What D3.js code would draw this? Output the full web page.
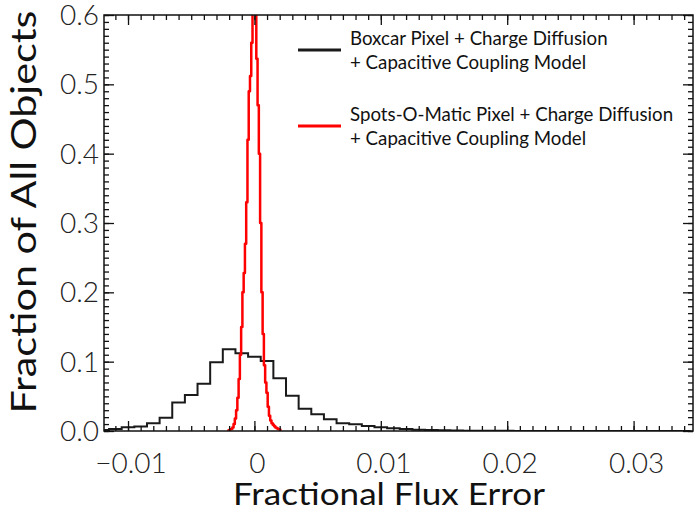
<!DOCTYPE html>
<html>
<head>
<meta charset="utf-8">
<script src="https://cdn.jsdelivr.net/npm/d3@7"></script>
<style>
  html, body { margin: 0; padding: 0; background: #fff; }
  svg { display: block; font-family: Lato, "Open Sans", sans-serif; }
  .domain { display: none; }
</style>
</head>
<body>
<svg id="chart" width="695" height="512"></svg>
<script>
"use strict";

// Boxcar model histogram, bin width 0.001 (bin centers)
const boxcarCenters = [-0.012, -0.011, -0.010, -0.009, -0.008, -0.007, -0.006, -0.005, -0.004, -0.003,
  -0.002, -0.001, 0.000, 0.001, 0.002, 0.003, 0.004, 0.005, 0.006, 0.007,
  0.008, 0.009, 0.010, 0.011, 0.012, 0.013, 0.014, 0.015, 0.016, 0.017,
  0.018, 0.019, 0.020, 0.021, 0.022, 0.023, 0.024, 0.025, 0.026, 0.027,
  0.028, 0.029, 0.030, 0.031, 0.032, 0.033, 0.034];
const boxcarValues = [0.0015, 0.003, 0.0055, 0.0065, 0.011, 0.019, 0.041, 0.052, 0.068, 0.099,
  0.118, 0.112, 0.107, 0.101, 0.076, 0.051, 0.032, 0.024, 0.0168, 0.011,
  0.0096, 0.0072, 0.0053, 0.0038, 0.0029, 0.0019, 0.0014, 0.0010, 0.0007, 0.0005,
  0.0004, 0.0003, 0.0002, 0.0001, 0.0001, 0.0001, 0.0001, 0.0001, 0.0001, 0.0001,
  0.0001, 0.0001, 0.0001, 0.0001, 0.0001, 0.0001, 0.0001];
const boxcarWidth = 0.001;

// Spots-O-Matic model histogram, bin width 0.0001 (bin centers)
const spotsCenters = [-0.0021, -0.0020, -0.0019, -0.0018, -0.0017, -0.0016, -0.0015, -0.0014, -0.0013, -0.0012,
  -0.0011, -0.0010, -0.0009, -0.0008, -0.0007, -0.0006, -0.0005, -0.0004, -0.0003, -0.0002,
  -0.0001, 0.0000, 0.0001, 0.0002, 0.0003, 0.0004, 0.0005, 0.0006, 0.0007, 0.0008,
  0.0009, 0.0010, 0.0011, 0.0012, 0.0013, 0.0014, 0.0015, 0.0016, 0.0017, 0.0018,
  0.0019, 0.0020, 0.0021];
const spotsValues = [0.000, 0.001, 0.002, 0.003, 0.005, 0.010, 0.018, 0.030, 0.048, 0.075,
  0.110, 0.150, 0.200, 0.228, 0.270, 0.330, 0.420, 0.490, 0.512, 0.560,
  0.700, 0.720, 0.640, 0.537, 0.470, 0.400, 0.300, 0.200, 0.140, 0.095,
  0.070, 0.055, 0.035, 0.022, 0.015, 0.011, 0.009, 0.007, 0.005, 0.004,
  0.003, 0.002, 0.001];
const spotsWidth = 0.0001;

const xMajorTicks = [-0.01, 0, 0.01, 0.02, 0.03];
const xTickLabels = ["\u22120.01", "0", "0.01", "0.02", "0.03"];
const yMajorTicks = [0.0, 0.1, 0.2, 0.3, 0.4, 0.5, 0.6];
const yTickLabels = ["0.0", "0.1", "0.2", "0.3", "0.4", "0.5", "0.6"];

const seriesNames = [
  ["Boxcar Pixel + Charge Diffusion", "+ Capacitive Coupling Model"],
  ["Spots-O-Matic Pixel + Charge Diffusion", "+ Capacitive Coupling Model"]
];
const seriesColors = ["#1a1a1a", "#ff0000"];

const margin = {top: 15, right: 2, bottom: 81, left: 104};
const W = 695, H = 512;
const width = W - margin.left - margin.right;
const height = H - margin.top - margin.bottom;

const svg = d3.select("#chart");
const g = svg.append("g")
  .attr("transform", "translate(" + margin.left + "," + margin.top + ")");

const x = d3.scaleLinear().domain([-0.0119, 0.0347]).range([0, width]);
const y = d3.scaleLinear().domain([0, 0.6]).range([height, 0]);

g.append("clipPath").attr("id", "plotclip")
  .append("rect").attr("x", 0).attr("y", 0).attr("width", width).attr("height", height);

// turn bins into step vertices
function stepPoints(centers, values, w) {
  const pts = centers.map((c, i) => [c - w / 2, values[i]]);
  pts.push([centers[centers.length - 1] + w / 2, values[values.length - 1]]);
  return pts;
}

const line = d3.line()
  .x(d => x(d[0]))
  .y(d => y(d[1]))
  .curve(d3.curveStepAfter);

const plot = g.append("g").attr("clip-path", "url(#plotclip)");

plot.append("path")
  .datum(stepPoints(boxcarCenters, boxcarValues, boxcarWidth))
  .attr("fill", "none")
  .attr("stroke", seriesColors[0])
  .attr("stroke-width", 2)
  .attr("d", line);

plot.append("path")
  .datum(stepPoints(spotsCenters, spotsValues, spotsWidth))
  .attr("fill", "none")
  .attr("stroke", seriesColors[1])
  .attr("stroke-width", 2.5)
  .attr("stroke-linejoin", "round")
  .attr("d", line);

// minor tick positions
const xMinor = d3.range(-11, 35).map(k => k / 1000);
const yMinor = d3.range(0, 61).map(k => k / 100);

function drawAxis(axisFn, scale, ticks, len, transform) {
  const a = g.append("g").attr("transform", transform)
    .call(axisFn(scale).tickValues(ticks).tickSize(-len).tickFormat(""));
  a.selectAll(".tick line").attr("stroke", "#111").attr("stroke-width", 1.3);
  return a;
}

// bottom, top, left, right ticks (all pointing inward)
drawAxis(d3.axisBottom, x, xMinor, 5, "translate(0," + height + ")");
drawAxis(d3.axisBottom, x, xMajorTicks, 10, "translate(0," + height + ")");
drawAxis(d3.axisTop, x, xMinor, 5, "translate(0,0)");
drawAxis(d3.axisTop, x, xMajorTicks, 10, "translate(0,0)");
drawAxis(d3.axisLeft, y, yMinor, 5, "translate(0,0)");
drawAxis(d3.axisLeft, y, yMajorTicks, 10, "translate(0,0)");
drawAxis(d3.axisRight, y, yMinor, 5, "translate(" + width + ",0)");
drawAxis(d3.axisRight, y, yMajorTicks, 10, "translate(" + width + ",0)");

// frame
g.append("rect")
  .attr("x", 0).attr("y", 0).attr("width", width).attr("height", height)
  .attr("fill", "none").attr("stroke", "#111").attr("stroke-width", 1.5);

// tick labels
g.selectAll(".xlab").data(xMajorTicks).enter().append("text")
  .attr("x", d => x(d) + 3).attr("y", height + 42)
  .attr("text-anchor", "middle")
  .attr("font-size", 28).attr("font-weight", 300).attr("fill", "#222")
  .text((d, i) => xTickLabels[i]);

g.selectAll(".ylab").data(yMajorTicks).enter().append("text")
  .attr("x", -5).attr("y", d => y(d) + 10)
  .attr("text-anchor", "end")
  .attr("font-size", 28).attr("font-weight", 300).attr("fill", "#222")
  .text((d, i) => yTickLabels[i]);

// axis titles
svg.append("text")
  .attr("x", 389).attr("y", 505)
  .attr("text-anchor", "middle")
  .attr("font-size", 31).attr("fill", "#111")
  .attr("textLength", 312).attr("lengthAdjust", "spacingAndGlyphs")
  .text("Fractional Flux Error");

svg.append("text")
  .attr("transform", "translate(36,212) rotate(-90)")
  .attr("text-anchor", "middle")
  .attr("font-size", 35).attr("fill", "#111")
  .attr("textLength", 403).attr("lengthAdjust", "spacingAndGlyphs")
  .text("Fraction of All Objects");

// legend
const legendY = [50, 126];
seriesNames.forEach((names, i) => {
  const lg = svg.append("g").attr("transform", "translate(298," + legendY[i] + ")");
  lg.append("line").attr("x1", 0).attr("x2", 43).attr("y1", 0).attr("y2", 0)
    .attr("stroke", seriesColors[i]).attr("stroke-width", 3);
  names.forEach((t, j) => {
    lg.append("text")
      .attr("x", 52).attr("y", -5 + j * 24)
      .attr("font-size", 18.7).attr("fill", "#111")
      .text(t);
  });
});
</script>
</body>
</html>
